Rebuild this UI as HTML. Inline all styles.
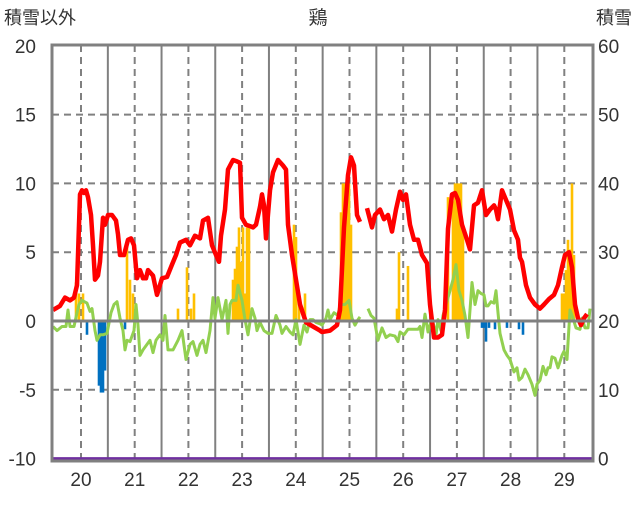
<!DOCTYPE html>
<html><head><meta charset="utf-8"><style>
body{margin:0;background:#fff;}
svg text{font-family:"Liberation Sans","Noto Sans CJK JP",sans-serif;}
</style></head><body>
<svg id="chart" width="636" height="501" viewBox="0 0 636 501" xmlns="http://www.w3.org/2000/svg">
<text x="318" y="24" font-size="19" text-anchor="middle" fill="#333">鶏</text>
<text x="4" y="24" font-size="18" fill="#333">積雪以外</text>
<text x="632" y="24" font-size="18" text-anchor="end" fill="#333">積雪</text>
<g id="grid"></g>
<g id="bars"></g>
<g id="lines"></g>
<g id="axes"></g>
</svg>
<script>
const xLabels=["20","21","22","23","24","25","26","27","28","29"];
const leftTicks=[-10,-5,0,5,10,15,20];
const rightTicks=["0","10","20","30","40","50","60"];
const redSeries=[[-1,0.8],[6,1.1],[11,1.7],[16,1.5],[20,1.7],[23,2.6],[26,9.2],[28,9.5],[30,9.3],[32,9.5],[34,9.0],[37,7.7],[39,5.5],[41,3.0],[44,3.3],[46,4.3],[49,7.5],[51,7.0],[54,7.7],[58,7.7],[62,7.3],[64,6.3],[66,4.8],[70,4.8],[74,5.9],[77,6.0],[80,5.5],[83,3.1],[86,3.7],[89,3.1],[92,3.1],[94,3.7],[99,3.3],[103,1.9],[108,3.1],[113,3.2],[118,4.1],[122,4.8],[126,5.7],[132,5.9],[136,5.5],[141,6.2],[146,6.0],[149,7.3],[154,7.5],[158,5.5],[162,4.8],[165,4.3],[167,6.2],[171,8.1],[174,11.0],[179,11.7],[183,11.6],[186,11.5],[188,7.5],[192,7.0],[196,6.9],[199,6.8],[202,7.0],[206,8.3],[208,9.2],[210,8.4],[212,6.0],[216,9.5],[219,10.8],[224,11.7],[229,11.3],[232,11.0],[234,7.0],[238,4.8],[242,3.0],[246,1.2],[252,-0.1],[259,-0.4],[266,-0.7],[268,-0.8],[276,-0.7],[283,-0.3],[286,0.8],[290,6.8],[294,10.6],[297,11.9],[300,11.3],[303,7.7],[306,7.2],null,[313,8.2],[318,6.8],[321,7.7],[326,8.1],[330,7.4],[334,7.7],[338,6.5],[342,8.1],[346,9.4],[349,8.8],[352,9.2],[356,7.0],[360,5.9],[364,5.9],[368,4.8],[373,4.2],[376,1.2],[380,-1.2],[384,-1.2],[388,-1.0],[391,0.8],[394,6.7],[398,9.2],[401,9.3],[404,8.8],[408,7.0],[413,5.9],[416,5.2],[420,8.4],[424,8.6],[428,9.5],[432,7.7],[436,8.1],[440,8.4],[442,8.1],[444,7.4],[448,9.5],[452,8.8],[456,8.1],[460,6.6],[464,5.9],[466,4.6],[468,4.3],[472,2.6],[476,1.7],[481,1.2],[486,0.9],[490,1.2],[495,1.6],[500,1.9],[504,2.6],[508,3.9],[511,4.8],[515,5.0],[518,3.9],[521,1.2],[524,0.2],[527,-0.3],[530,0.2],[533,0.5]];
const greenSeries=[[-1,-0.4],[3,-0.7],[8,-0.4],[12,-0.4],[14,0.8],[16,-0.4],[20,-0.4],[23,0.6],[25,1.2],[28,1.5],[33,1.3],[36,0.7],[38,0.9],[41,-0.7],[43,-1.4],[46,-1.0],[49,-1.0],[53,-0.9],[57,0.6],[60,1.2],[63,1.4],[66,0.2],[69,-0.7],[71,-2.1],[73,-1.4],[76,-1.5],[80,-0.7],[82,1.2],[84,-0.3],[86,-2.5],[89,-2.1],[93,-1.7],[96,-1.4],[99,-2.3],[102,-1.4],[106,-1.0],[109,-1.4],[111,0.4],[114,-2.1],[119,-2.1],[124,-1.4],[128,-0.7],[132,-2.8],[136,-1.7],[139,-1.5],[143,-2.5],[146,-1.7],[149,-1.4],[152,-2.3],[156,-0.7],[159,1.7],[161,0.2],[164,1.7],[166,0.9],[168,0.1],[172,1.5],[174,-0.9],[176,1.2],[178,1.5],[182,1.5],[184,2.6],[188,1.5],[191,0.1],[194,-1.0],[198,0.9],[201,0.2],[203,-0.7],[206,-0.1],[210,-0.7],[214,-0.9],[218,-0.9],[222,0.4],[226,-0.3],[228,-0.9],[232,-0.4],[236,-0.8],[239,-1.0],[242,0.1],[246,-1.7],[250,-0.3],[253,-0.8],[256,0.1],[259,0.1],[262,-0.1],[266,-0.2],[268,-0.3],[272,0.2],[274,0.8],[276,0.1],[280,0.6],[284,0.4],[286,1.2],[291,1.2],[295,1.5],[298,0.2],[301,-0.3],[304,0.1],[306,0.3],null,[314,0.9],[317,0.4],[320,0.2],[324,-1.4],[328,-0.5],[332,-1.2],[336,-1.0],[341,-1.1],[344,-1.5],[346,-0.8],[350,-1.0],[354,-0.6],[360,-0.6],[364,-0.6],[366,-0.4],[368,-1.2],[371,0.5],[374,-0.8],[378,0.2],[382,-1.0],[384,0.1],[387,-0.7],[389,0.4],[392,1.2],[396,2.2],[399,3.0],[402,4.1],[405,2.2],[408,1.5],[411,0.4],[414,-1.2],[418,2.8],[421,1.2],[424,2.2],[427,2.0],[430,1.9],[432,1.1],[434,1.1],[437,1.4],[440,1.3],[442,2.2],[444,0.6],[446,-0.9],[450,-2.1],[453,-2.5],[456,-2.8],[460,-3.7],[463,-3.4],[465,-4.3],[468,-4.1],[471,-3.5],[474,-3.9],[478,-4.6],[481,-5.4],[483,-4.6],[486,-4.3],[489,-3.3],[492,-3.9],[494,-3.4],[496,-3.4],[498,-2.6],[501,-2.7],[504,-3.4],[508,-2.5],[510,-2.2],[513,-2.8],[516,0.8],[519,0.2],[522,-0.5],[526,-0.6],[528,0.2],[531,-0.5],[534,-0.5],[536,0.9]];
const orangeBars=[[22,2.8],[25,2.0],[29,2.0],[73,5.4],[76,3.0],[79,2.0],[124,0.9],[133,3.9],[137,0.9],[140,2.0],[179,3.0],[181,3.8],[183,5.4],[185,6.8],[187,4.3],[189,6.8],[191,2.0],[193,6.8],[195,6.8],[240,7.0],[242,6.1],[245,2.0],[251,2.0],[287,7.9],[289,10],[291,10],[293,10],[295,10],[297,7.0],[343,0.9],[345,5.0],[354,4.0],[394,9.0],[399,8.7],[401,10],[403,10],[405,10],[407,10],[409,7.0],[508,2.0],[510,2.0],[512,3.7],[514,5.9],[516,5.2],[518,10],[520,4.8]];
const blueBars=[[33,-1.0],[45,-4.7],[47,-5.2],[49,-5.2],[51,-3.6],[71,-0.6],[428,-0.5],[430,-0.5],[432,-1.5],[435,-0.5],[441,-0.6],[453,-0.5],[465,-0.6],[469,-1.0]];

const NS="http://www.w3.org/2000/svg";
const L=52,R=593,T=45,B=461;
function X(d){return 54+d;}
function Y(v){return 321-v*13.76;}
function mk(tag,attrs,parent){const e=document.createElementNS(NS,tag);for(const k in attrs)e.setAttribute(k,attrs[k]);parent.appendChild(e);return e;}
const grid=document.getElementById('grid'),bars=document.getElementById('bars'),lines=document.getElementById('lines'),axes=document.getElementById('axes');
const period=53.7;
leftTicks.forEach(v=>{
  if(v===0||v===-10||v===20)return;
  const g=mk('line',{x1:L,x2:R,y1:Y(v),y2:Y(v),stroke:'#808080','stroke-width':2,'stroke-dasharray':'7,5'},grid);
  
  
});
for(let k=0;k<10;k++){
  const x=X(27+k*period);
  const g=mk('line',{x1:x,x2:x,y1:T,y2:B,stroke:'#808080','stroke-width':2,'stroke-dasharray':'7,5'},grid);
  
  
  if(k<9){
    const x2=X(27+(k+0.5)*period);
    const s=mk('line',{x1:x2,x2:x2,y1:T,y2:B,stroke:'#808080','stroke-width':2},grid);
    
    
  }
  const t=mk('text',{x:x,y:486,'font-size':19,'text-anchor':'middle',fill:'#333'},axes);
  t.textContent=xLabels[k];
  
  
}
orangeBars.forEach(([d,v])=>{
  const r=mk('rect',{x:X(d)-1.3,y:Y(v),width:2.6,height:Y(0)-Y(v),fill:'#FFC000'},bars);
  
  
});
blueBars.forEach(([d,v])=>{
  const r=mk('rect',{x:X(d)-1.3,y:Y(0),width:2.6,height:Y(v)-Y(0),fill:'#0070C0'},bars);
  
  
});
const z=mk('line',{x1:L,x2:R,y1:Y(0),y2:Y(0),stroke:'#808080','stroke-width':3},axes);


function path(series){let d='',pen=false;series.forEach(p=>{if(!p){pen=false;return;}d+=(pen?'L':'M')+X(p[0]).toFixed(1)+','+Y(p[1]).toFixed(1);pen=true;});return d;}
const g1=mk('path',{d:path(greenSeries),fill:'none',stroke:'#92D050','stroke-width':3,'stroke-linejoin':'round'},lines);


const r1=mk('path',{d:path(redSeries),fill:'none',stroke:'#FF0000','stroke-width':4.5,'stroke-linejoin':'round'},lines);


const pl=mk('line',{x1:L,x2:R,y1:Y(-10),y2:Y(-10),stroke:'#7030A0','stroke-width':3},axes);


const fr=mk('rect',{x:L,y:T,width:R-L,height:B-T,fill:'none',stroke:'#808080','stroke-width':3},axes);


leftTicks.forEach((v,i)=>{
  const t=mk('text',{x:36,y:Y(v)+7,'font-size':19,'text-anchor':'end',fill:'#333'},axes);
  t.textContent=String(v);
  
  
  const t2=mk('text',{x:598,y:Y(v)+7,'font-size':19,'text-anchor':'start',fill:'#333'},axes);
  t2.textContent=rightTicks[i];
  
  
});
</script>
</body></html>
